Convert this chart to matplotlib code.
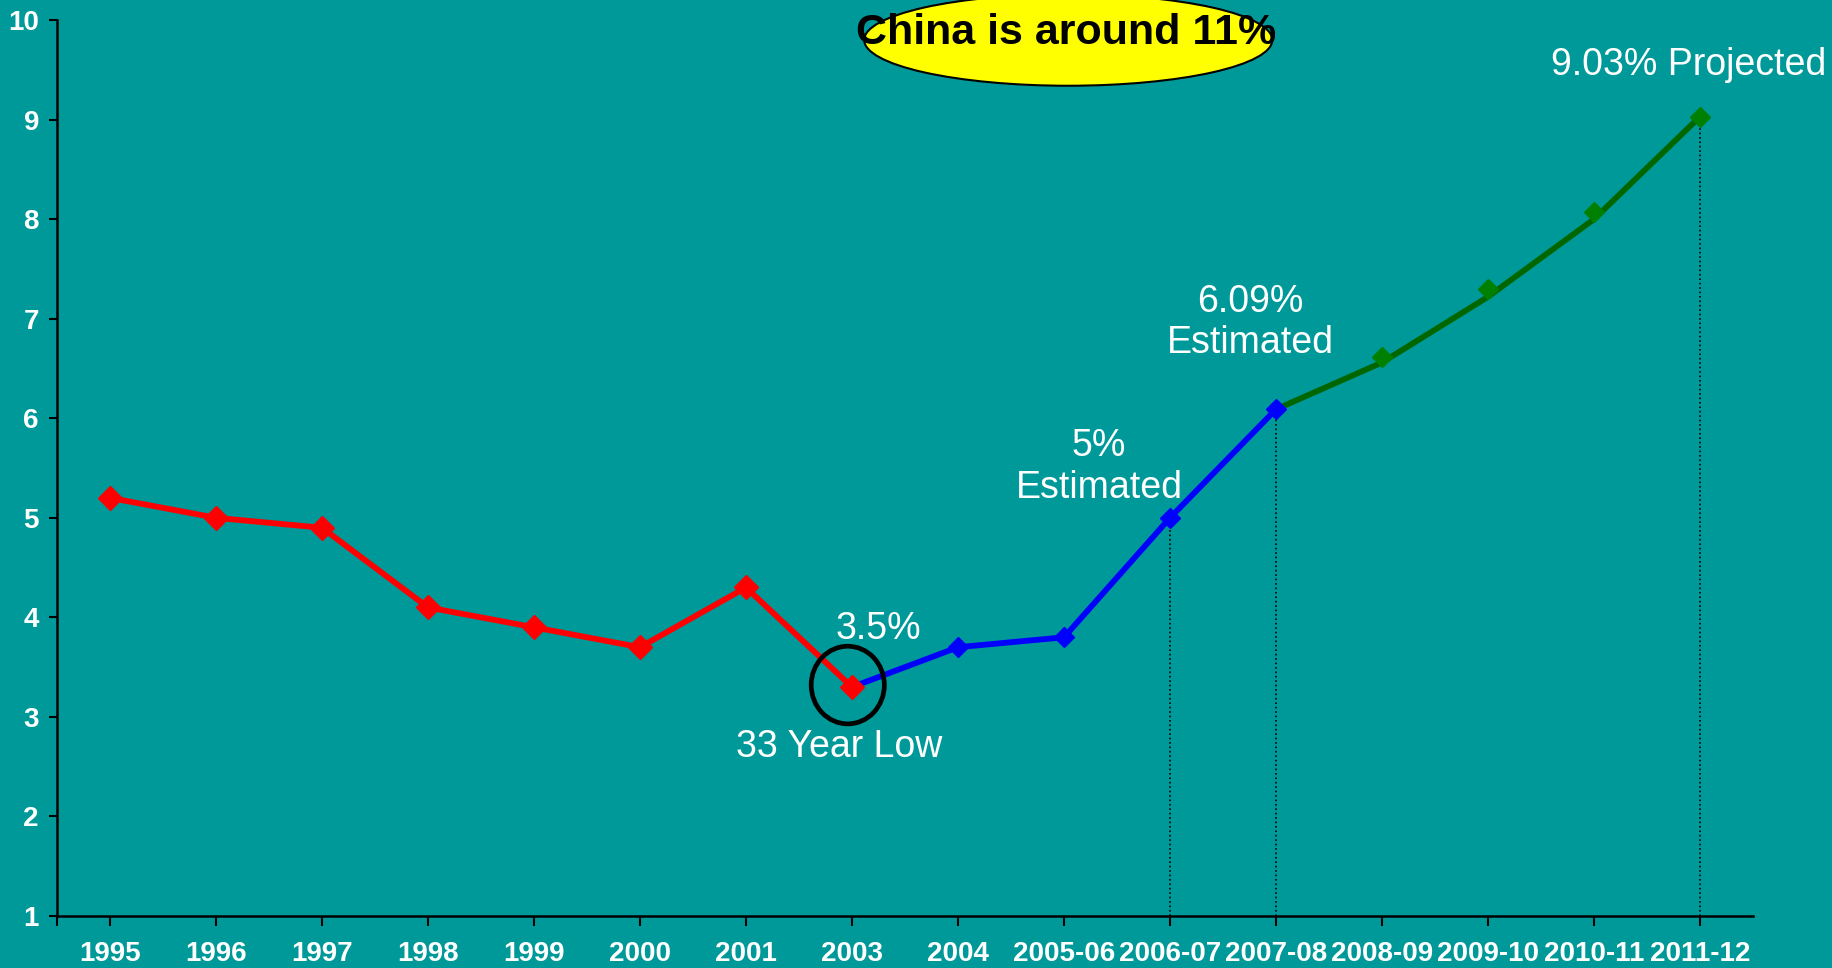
import matplotlib
matplotlib.use("Agg")
import matplotlib.pyplot as plt
from matplotlib.patches import Ellipse

plt.rcParams['font.family'] = ['Liberation Sans', 'DejaVu Sans']

# categories and values
years = ["1995", "1996", "1997", "1998", "1999", "2000", "2001", "2003",
         "2004", "2005-06", "2006-07", "2007-08", "2008-09", "2009-10",
         "2010-11", "2011-12"]
actual = [5.2, 5.0, 4.9, 4.1, 3.9, 3.7, 4.3, 3.3]          # 1995 .. 2003
estimated = [3.3, 3.7, 3.8, 5.0, 6.09]                     # 2003 .. 2007-08
projected_line = [6.09, 6.56, 7.22, 8.0, 9.03]             # 2007-08 .. 2011-12
projected_pts = [6.62, 7.3, 8.07, 9.03]                    # 2008-09 .. 2011-12
dotted_at = ["2006-07", "2007-08", "2011-12"]
dotted_val = [5.0, 6.09, 9.03]

BG = "#009999"

fig = plt.figure(figsize=(18.32, 9.68), dpi=100, facecolor=BG)
ax = fig.add_axes([0.0311, 0.0537, 0.9258, 0.9256])
ax.set_facecolor(BG)

xi = list(range(len(years)))

# dotted drop lines
dx = [years.index(c) for c in dotted_at]
ax.vlines(dx, 1, dotted_val, colors="black", linestyles=":", lw=1.2, zorder=1)

ax.plot(xi[0:8], actual, color="#FF0000", lw=4.2, marker="D", ms=12,
        zorder=4)
ax.plot(xi[7:12], estimated[:], color="#0000FF", lw=4.2, zorder=3)
ax.plot(xi[8:12], estimated[1:], ls="none", color="#0000FF", marker="D",
        ms=10, zorder=3)
ax.plot(xi[11:16], projected_line, color="#006600", lw=4.2, zorder=2)
ax.plot(xi[12:16], projected_pts, ls="none", color="#008000", marker="D",
        ms=10.5, zorder=3)

ax.set_xlim(-0.5, 15.5)
ax.set_ylim(1, 10)
ax.set_xticks(xi)
ax.set_xticklabels(years)
ax.set_xticks([-0.5], minor=True)
ax.set_yticks(range(1, 11))

for s in ("top", "right"):
    ax.spines[s].set_visible(False)
for s in ("left", "bottom"):
    ax.spines[s].set_linewidth(1.8)
    ax.spines[s].set_color("black")

ax.tick_params(axis="x", which="both", length=7, width=1.5, colors="black",
               pad=11, labelcolor="white", labelsize=20)
ax.tick_params(axis="y", length=6, width=1.5, colors="black", pad=7,
               labelcolor="white", labelsize=20)
for lab in ax.get_xticklabels() + ax.get_yticklabels():
    lab.set_fontweight("bold")

# circle round the low point
ax.add_patch(Ellipse((6.96, 3.32), 0.69, 0.78, fill=False, ec="black",
                     lw=3.4, zorder=5))

txt = dict(color="white", fontsize=27, ha="center", va="center")
ax.text(7.25, 3.88, "3.5%", **txt)
ax.text(6.88, 2.70, "33 Year Low", **txt)
ax.text(9.33, 5.51, "5%\nEstimated", linespacing=1.2, **txt)
ax.text(10.76, 6.96, "6.09%\nEstimated", linespacing=1.2, **txt)
ax.text(14.89, 9.55, "9.03% Projected", **txt)

# yellow callout
ax.add_patch(Ellipse((9.04, 9.80), 3.85, 0.92, fc="#FFFF00", ec="black",
                     lw=1.5, clip_on=False, zorder=6))
ax.text(9.02, 9.87, "China is around 11%", color="black", fontsize=31,
        fontweight="bold", ha="center", va="center", zorder=7,
        clip_on=False)

fig.savefig("out.png", dpi=100, facecolor=BG)
